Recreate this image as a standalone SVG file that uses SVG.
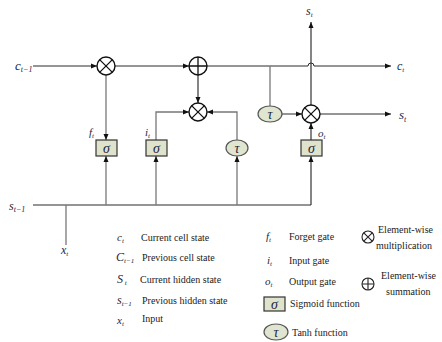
<svg xmlns="http://www.w3.org/2000/svg" width="442" height="342" viewBox="0 0 442 342">
<style>
.h{stroke:#2a2a2a;stroke-width:1;fill:none}
.v{stroke:#777;stroke-width:1.3;fill:none}
.vd{stroke:#333;stroke-width:1.2;fill:none}
.op{fill:#fff;stroke:#111;stroke-width:1.4}
.opl{stroke:#111;stroke-width:1.3}
.sig{fill:#dfe3cb;stroke:#333;stroke-width:1.2}
.tanh{fill:#dfe5cf;stroke:#555;stroke-width:1.2}
.m{font-family:"Liberation Serif",serif;font-style:italic;fill:#1d2640}
.g{font-family:"Liberation Serif",serif;font-style:italic;font-size:14px;fill:#1d2640;text-anchor:middle}
.t{font-family:"Liberation Serif",serif;font-size:10px;fill:#222}
</style>
<defs>
<marker id="a" viewBox="0 0 6 6" refX="6" refY="3" markerWidth="6" markerHeight="6" markerUnits="userSpaceOnUse" orient="auto">
<path d="M0,0.5 L6,3 L0,5.5 Z" fill="#111"/>
</marker>
</defs>
<g id="connectors">
<path class="h" d="M33,66 H97" marker-end="url(#a)"/>
<path class="h" d="M115,66 H189" marker-end="url(#a)"/>
<path class="h" d="M207,66 H308 A3,3 0 0 1 314,66 H391" marker-end="url(#a)"/>
<path class="vd" d="M198,75 V103" marker-end="url(#a)"/>
<path class="v" d="M106,75 V140" marker-end="url(#a)"/>
<path class="v" d="M156,140 V112 H189" marker-end="url(#a)"/>
<path class="v" d="M237,140 V112 H207" marker-end="url(#a)"/>
<path class="v" d="M270,66 V106"/>
<path class="h" d="M282,114 H302" marker-end="url(#a)"/>
<path class="h" d="M320,114 H391" marker-end="url(#a)"/>
<path class="vd" d="M311,105 V22" marker-end="url(#a)"/>
<path class="vd" d="M311,140 V123" marker-end="url(#a)"/>
<path class="h" d="M33,205 H311"/>
<path class="vd" d="M311,205 V156" marker-end="url(#a)"/>
<path class="v" d="M106,205 V156" marker-end="url(#a)"/>
<path class="v" d="M156,205 V156" marker-end="url(#a)"/>
<path class="v" d="M237,205 V156" marker-end="url(#a)"/>
<path class="v" d="M66,205 V245"/>
</g>
<g id="mult1"><circle class="op" cx="106" cy="66" r="9"/><path class="opl" d="M99.6,59.6 L112.4,72.4 M112.4,59.6 L99.6,72.4"/></g>
<g id="plus"><circle class="op" cx="198" cy="66" r="9"/><path class="opl" d="M189,66 H207 M198,57 V75"/></g>
<g id="mult2"><circle class="op" cx="198" cy="112" r="9"/><path class="opl" d="M191.6,105.6 L204.4,118.4 M204.4,105.6 L191.6,118.4"/></g>
<g id="mult3"><circle class="op" cx="311" cy="114" r="9"/><path class="opl" d="M304.6,107.6 L317.4,120.4 M317.4,107.6 L304.6,120.4"/></g>
<g id="sig-f"><rect class="sig" x="96" y="140" width="21" height="16"/><text class="g" x="106.5" y="153">σ</text></g>
<g id="sig-i"><rect class="sig" x="146" y="140" width="21" height="16"/><text class="g" x="156.5" y="153">σ</text></g>
<g id="sig-o"><rect class="sig" x="301" y="140" width="21" height="16"/><text class="g" x="311.5" y="153">σ</text></g>
<g id="tanh1"><ellipse class="tanh" cx="237" cy="148" rx="11" ry="8"/><text class="g" x="237" y="153">τ</text></g>
<g id="tanh2"><ellipse class="tanh" cx="270" cy="114" rx="12" ry="8"/><text class="g" x="270" y="119">τ</text></g>
<g id="labels">
<text class="m" x="15" y="70" font-size="13">c<tspan font-size="8" dy="2">t−1</tspan></text>
<text class="m" x="9" y="210" font-size="12">s<tspan font-size="8" dy="2">t−1</tspan></text>
<text class="m" x="61" y="254" font-size="12">x<tspan font-size="7" dy="2">t</tspan></text>
<text class="m" x="89" y="136" font-size="11">f<tspan font-size="7" dy="2">t</tspan></text>
<text class="m" x="145" y="136" font-size="11">i<tspan font-size="7" dy="2">t</tspan></text>
<text class="m" x="318" y="137" font-size="11">o<tspan font-size="7" dy="2">t</tspan></text>
<text class="m" x="306" y="15" font-size="12">s<tspan font-size="7" dy="2">t</tspan></text>
<text class="m" x="397" y="70" font-size="12">c<tspan font-size="7" dy="2">t</tspan></text>
<text class="m" x="399" y="119" font-size="13">s<tspan font-size="8" dy="3">t</tspan></text>
</g>
<g id="legend">
<text class="m" x="117" y="241" font-size="11">c<tspan font-size="7" dy="2">t</tspan></text>
<text class="t" x="141" y="241">Current cell state</text>
<text class="m" x="116" y="261" font-size="12">C<tspan font-size="7" dy="2">t−1</tspan></text>
<text class="t" x="142" y="261">Previous  cell state</text>
<text class="m" x="117" y="283" font-size="12">S<tspan font-size="7" dy="2"> t</tspan></text>
<text class="t" x="140" y="283">Current hidden state</text>
<text class="m" x="117" y="304" font-size="12">s<tspan font-size="7" dy="2">t−1</tspan></text>
<text class="t" x="142" y="304">Previous hidden state</text>
<text class="m" x="117" y="324" font-size="11">x<tspan font-size="7" dy="2">t</tspan></text>
<text class="t" x="142" y="322">Input</text>
<text class="m" x="266" y="240" font-size="11">f<tspan font-size="7" dy="2">t</tspan></text>
<text class="t" x="289" y="240">Forget gate</text>
<text class="m" x="267" y="264" font-size="11">i<tspan font-size="7" dy="2">t</tspan></text>
<text class="t" x="289" y="264">Input gate</text>
<text class="m" x="265" y="285" font-size="11">o<tspan font-size="7" dy="2">t</tspan></text>
<text class="t" x="289" y="285">Output gate</text>
<rect class="sig" x="264" y="297" width="21" height="14"/>
<text class="g" x="274.5" y="309">σ</text>
<text class="t" x="290" y="307">Sigmoid function</text>
<ellipse class="tanh" cx="276" cy="332" rx="12" ry="8"/>
<text class="g" x="276" y="337">τ</text>
<text class="t" x="292" y="336">Tanh function</text>
<circle fill="#fff" stroke="#222" stroke-width="1.1" cx="368" cy="237" r="6"/>
<path stroke="#222" stroke-width="1.1" d="M363.8,232.8 L372.2,241.2 M372.2,232.8 L363.8,241.2"/>
<text class="t" x="378" y="233">Element-wise</text>
<text class="t" x="376" y="249">multiplication</text>
<circle fill="#fff" stroke="#222" stroke-width="1.1" cx="368" cy="284" r="6"/>
<path stroke="#222" stroke-width="1.1" d="M362,284 H374 M368,278 V290"/>
<text class="t" x="381" y="279">Element-wise</text>
<text class="t" x="386" y="295">summation</text>
</g>
</svg>
